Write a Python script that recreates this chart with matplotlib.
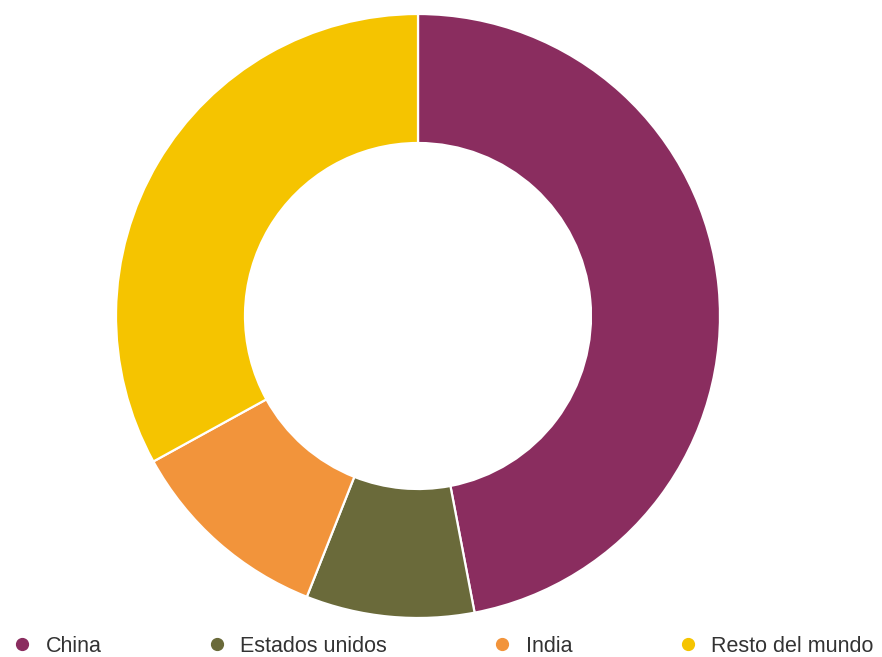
import matplotlib
matplotlib.use("Agg")
import matplotlib.pyplot as plt
from matplotlib.lines import Line2D

# Shares by country/region (%)
categories = ["China", "Estados unidos", "India", "Resto del mundo"]
shares = [47, 9, 11, 33]
colors = ["#8A2D5F", "#6A6A3A", "#F2943B", "#F5C400"]

plt.rcParams["font.family"] = ["Liberation Sans", "DejaVu Sans"]

W, H = 882, 657
fig = plt.figure(figsize=(W / 100, H / 100), dpi=100)
fig.patch.set_facecolor("white")

# Donut: outer radius 302 px centred at (418, 316) from the top-left
R = 302
cx, cy = 418, 316
ax = fig.add_axes([(cx - R) / W, (H - cy - R) / H, 2 * R / W, 2 * R / H])
ax.pie(
    shares,
    colors=colors,
    startangle=90,
    counterclock=False,
    radius=1.0,
    wedgeprops=dict(width=1 - 173 / 302, edgecolor="white", linewidth=1.6),
)
ax.set_xlim(-1, 1)
ax.set_ylim(-1, 1)
ax.set_aspect("equal")
ax.axis("off")

handles = [
    Line2D([], [], linestyle="none", marker="o", markersize=8.5,
           markerfacecolor=c, markeredgecolor=c)
    for c in colors
]
fs = 15.5
fig.legend(
    handles, categories,
    loc="center left",
    bbox_to_anchor=(11.2 / W, (H - 646.5) / H),
    ncol=4,
    frameon=False,
    fontsize=fs,
    handlelength=1.0,
    handletextpad=0.6,
    columnspacing=4.85,
    borderpad=0,
    borderaxespad=0,
    labelcolor="#333333",
)

fig.savefig("out.png", dpi=100, facecolor="white")
